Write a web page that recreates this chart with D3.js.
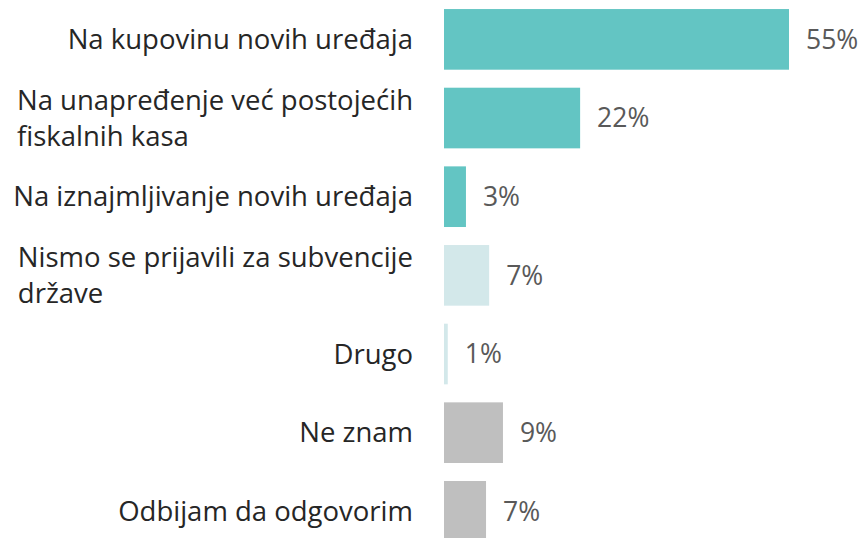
<!DOCTYPE html>
<html>
<head>
<meta charset="utf-8">
<script src="https://cdn.jsdelivr.net/npm/d3@7"></script>
<style>
  body { margin: 0; background: #fff; }
  svg { display: block; font-family: "Open Sans", "Noto Sans", sans-serif; }
</style>
</head>
<body>
<svg id="chart" width="862" height="538"></svg>
<script>
// answers, each one split in lines as in the picture
const categories = [
  ["Na kupovinu novih uređaja"],
  ["Na unapređenje već postojećih", "fiskalnih kasa"],
  ["Na iznajmljivanje novih uređaja"],
  ["Nismo se prijavili za subvencije", "države"],
  ["Drugo"],
  ["Ne znam"],
  ["Odbijam da odgovorim"]
];
// bar lengths, labels are the rounded values
const values = [55, 21.7, 3.5, 7.2, 0.6, 9.4, 6.7];
const valueLabels = ["55%", "22%", "3%", "7%", "1%", "9%", "7%"];
const groups = ["a", "a", "a", "b", "b", "c", "c"];

const svg = d3.select("#chart");
const labelRight = 413;

const y = d3.scaleBand()
  .domain(d3.range(values.length))
  .range([0, 550.7])
  .paddingInner(0.229)
  .paddingOuter(0.115);

const x = d3.scaleLinear()
  .domain([0, 55])
  .range([444, 789]);

const color = d3.scaleOrdinal()
  .domain(["a", "b", "c"])
  .range(["#63c5c3", "#d3e8ea", "#bfbfbf"]);

//bars
svg.append("g")
  .selectAll("rect")
  .data(values)
  .join("rect")
  .attr("x", x(0))
  .attr("y", (d, i) => y(i))
  .attr("width", d => x(d) - x(0))
  .attr("height", y.bandwidth())
  .attr("fill", (d, i) => color(groups[i]));

//value labels
svg.append("g")
  .selectAll("text")
  .data(values)
  .join("text")
  .attr("x", d => x(d) + 17)
  .attr("y", (d, i) => y(i) + y.bandwidth() / 2)
  .attr("dy", "0.35em")
  .attr("fill", "#595959")
  .attr("font-size", 26.5)
  .text((d, i) => valueLabels[i]);

//category labels, a block right aligned, lines left aligned inside
const lineHeight = 36;
categories.forEach((lines, i) => {
  const cy = y(i) + y.bandwidth() / 2;
  const t = svg.append("text")
    .attr("fill", "#262626")
    .attr("font-size", 27.5);
  lines.forEach((line, j) => {
    t.append("tspan")
      .attr("y", cy + (j - (lines.length - 1) / 2) * lineHeight)
      .attr("dy", "0.35em")
      .text(line);
  });
  const w = d3.max(t.selectAll("tspan").nodes(), n => n.getComputedTextLength());
  t.selectAll("tspan").attr("x", labelRight - w);
});
</script>
</body>
</html>
